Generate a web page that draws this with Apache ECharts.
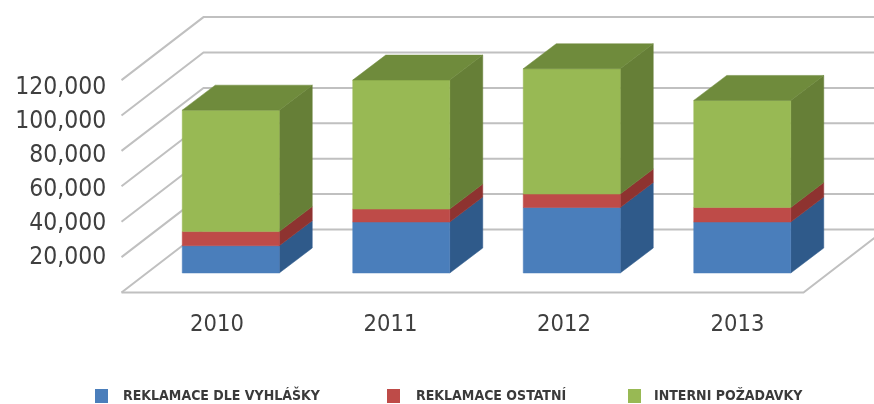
<!DOCTYPE html>
<html>
<head>
<meta charset="utf-8">
<style>html,body{margin:0;padding:0;background:#fff}#chart{width:874px;height:404px}</style>
<script src="https://cdn.jsdelivr.net/npm/echarts@6/dist/echarts.min.js"></script>
</head>
<body>
<div id="chart"></div>
<script>
// Complaints and internal requests per year, stacked
const years = ['2010', '2011', '2012', '2013'];
const statutoryComplaints = [15400, 28800, 37000, 28800];
const otherComplaints = [8000, 7300, 7600, 8200];
const internalRequests = [68600, 72900, 70800, 60500];
const axisTicks = [0, 20000, 40000, 60000, 80000, 100000, 120000];

const seriesDefs = [
  { name: 'REKLAMACE DLE VYHLÁŠKY', values: statutoryComplaints, front: '#4a7ebb', side: '#2f5a8a', top: '#3a689e' },
  { name: 'REKLAMACE OSTATNÍ', values: otherComplaints, front: '#be4b48', side: '#8e3330', top: '#a33f3c' },
  { name: 'INTERNI POŽADAVKY', values: internalRequests, front: '#98b954', side: '#667f37', top: '#6f8b3c' }
];

// Projection of the depth axis, in pixels
const barDepth = { x: 33, y: -25 };
const floorFront = { x: -24, y: 19.5 };
const floorBack = { x: 58, y: -43.5 };
const gridColor = '#c0c0c0';

function quad(a, b, c, d, fill) {
  return {
    type: 'polygon',
    shape: { points: [a, b, c, d] },
    style: { fill: fill, stroke: fill, lineWidth: 0.5 }
  };
}

function barRenderer(def, isLast) {
  return function (params, api) {
    const i = api.value(0);
    const low = api.coord([i, api.value(1)]);
    const high = api.coord([i, api.value(2)]);
    const w = api.size([1, 0])[0] * 0.569;
    const l = low[0] - w / 2, r = low[0] + w / 2;
    const dx = barDepth.x, dy = barDepth.y;
    const children = [
      quad([r, low[1]], [r + dx, low[1] + dy], [r + dx, high[1] + dy], [r, high[1]], def.side),
      quad([l, low[1]], [r, low[1]], [r, high[1]], [l, high[1]], def.front)
    ];
    if (isLast) {
      children.push(quad([l, high[1]], [r, high[1]], [r + dx, high[1] + dy], [l + dx, high[1] + dy], def.top));
    }
    return { type: 'group', children: children };
  };
}

function wallRenderer(params, api) {
  const v = api.value(0);
  const band = api.size([1, 0])[0];
  const first = api.coord([0, v]);
  const last = api.coord([years.length - 1, v]);
  const left = first[0] - band / 2;
  const right = last[0] + band / 2;
  const y = first[1];
  const lineStyle = { stroke: gridColor, lineWidth: 2, fill: 'none' };
  const fx = left + floorFront.x, fy = y + floorFront.y;
  const bx = left + floorBack.x, by = y + floorBack.y;
  const rightBack = right + floorBack.x;
  const points = [[fx, fy], [bx, by], [rightBack, by]];
  const children = [{ type: 'polyline', shape: { points: points }, style: lineStyle }];
  if (v === 0) {
    children.push({
      type: 'polyline',
      shape: { points: [[fx, fy], [right + floorFront.x, fy], [rightBack, by]] },
      style: lineStyle
    });
  }
  return { type: 'group', children: children };
}

const barSeries = seriesDefs.map(function (def, s) {
  const data = def.values.map(function (v, i) {
    let base = 0;
    for (let k = 0; k < s; k++) base += seriesDefs[k].values[i];
    return [i, base, base + v];
  });
  return {
    type: 'custom',
    name: def.name,
    coordinateSystem: 'cartesian2d',
    xAxisIndex: 0,
    yAxisIndex: 0,
    itemStyle: { color: def.front },
    encode: { x: 0, y: [1, 2] },
    renderItem: barRenderer(def, s === seriesDefs.length - 1),
    data: data,
    z: 3
  };
});

const condensed = '"DejaVu Sans Condensed", "DejaVu Sans"';
const legendFont = { fontFamily: condensed, fontWeight: 'bold', fontSize: 14, color: '#3a3a3a' };
const legendLefts = [95, 387, 628];
const legendTextGaps = [10, 11, 8];

const option = {
  animation: false,
  backgroundColor: '#fff',
  // Grid 0 carries the marks on the front plane of the bars, grid 1 the printed scales
  grid: [
    { left: 145.5, width: 682, top: 60.6, height: 212.4 },
    { left: 130.25, width: 694, top: 88, height: 203.4 }
  ],
  xAxis: [
    { gridIndex: 0, type: 'category', data: years, show: false },
    {
      gridIndex: 1, type: 'category', data: years, position: 'bottom',
      axisLine: { show: false }, axisTick: { show: false },
      axisLabel: { fontFamily: condensed, fontSize: 23.5, color: '#3f3f3f', margin: 21 }
    }
  ],
  yAxis: [
    { gridIndex: 0, type: 'value', min: 0, max: 120000, interval: 20000, show: false },
    {
      gridIndex: 1, type: 'value', min: 0, max: 120000, interval: 20000,
      position: 'left', offset: 16,
      axisLine: { show: false }, axisTick: { show: false }, splitLine: { show: false },
      axisLabel: {
        fontFamily: condensed, fontSize: 24.5, color: '#3f3f3f', margin: 8,
        formatter: function (v) { return v === 0 ? '' : v.toLocaleString('en-US'); }
      }
    }
  ],
  legend: seriesDefs.map(function (def, i) {
    return {
      data: [def.name],
      left: legendLefts[i],
      top: 389,
      icon: 'rect',
      itemWidth: 13,
      itemHeight: 14,
      itemGap: 0,
      padding: 0,
      selectedMode: false,
      textStyle: Object.assign({ padding: [0, 0, 0, legendTextGaps[i]] }, legendFont)
    };
  }),
  series: [{
    type: 'custom',
    name: 'walls',
    coordinateSystem: 'cartesian2d',
    xAxisIndex: 0,
    yAxisIndex: 0,
    encode: { y: 0 },
    renderItem: wallRenderer,
    data: axisTicks.map(function (t) { return [t]; }),
    silent: true,
    z: 1
  }].concat(barSeries)
};

echarts.init(document.getElementById('chart'), null, { renderer: 'canvas' }).setOption(option);
</script>
</body>
</html>
